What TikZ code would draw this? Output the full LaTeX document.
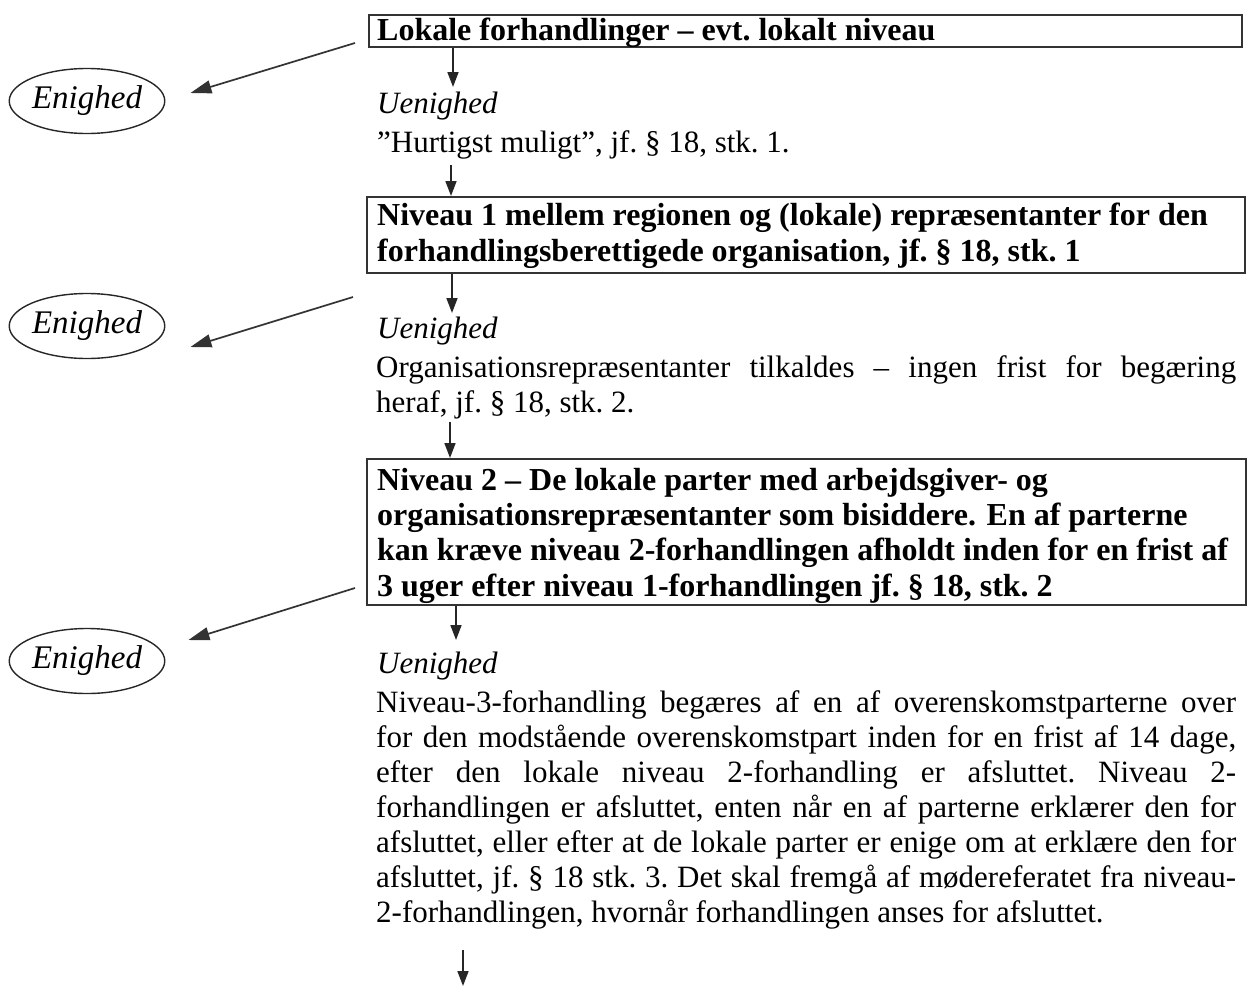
\documentclass[tikz,border=0pt]{standalone}
\usepackage{fontspec}
\setmainfont{Liberation Serif}
\usetikzlibrary{arrows.meta,shapes.geometric}
\begin{document}
\begin{tikzpicture}[x=1pt,y=-1pt,
  boxframe/.style={draw=black!80,line width=1.8pt,inner sep=0pt},
  txt/.style={anchor=base west,inner sep=0pt,font=\fontsize{31}{35}\selectfont\frenchspacing},
  ital/.style={txt,font=\fontsize{31}{35}\selectfont\itshape},
  boldtxt/.style={anchor=base west,inner sep=0pt,align=left,font=\fontsize{32}{35.3}\selectfont\bfseries},
  ell/.style={draw=black!85,ellipse,line width=1.4pt,minimum width=150pt,minimum height=65pt,inner sep=0pt,font=\fontsize{33}{36}\selectfont\itshape},
  down/.style={draw=black!85,line width=1.7pt,-{Triangle[length=15pt,width=11pt]}},
  side/.style={draw=black!80,line width=1.7pt,-{Triangle[length=21pt,width=13pt]}}]
\useasboundingbox (0,0) rectangle (1249,988);

% ellipses
\node[ell] (e1) at (87,101) {Enighed};
\node[ell] (e2) at (87,326) {Enighed};
\node[ell] (e3) at (87,661) {Enighed};

% box 1
\node[boxframe,anchor=north west,minimum width=873pt,minimum height=32pt] (b1) at (368,14) {};
\node[boldtxt] (t1) at (377,40) {Lokale forhandlinger – evt.\ lokalt niveau};
\node[ital] (u1) at (377,113) {Uenighed};
\node[txt] (h1) at (377,152) {”Hurtigst muligt”, jf. § 18, stk. 1.};

% box 2 (base = last line)
\node[boxframe,anchor=north west,minimum width=878pt,minimum height=76pt] (b2) at (366,196) {};
\node[boldtxt] (t2) at (377,261) {Niveau 1 mellem regionen og (lokale) repræsentanter for den\\forhandlingsberettigede organisation, jf.\ § 18, stk.\ 1};
\node[ital] (u2) at (377,338) {Uenighed};
\node[txt,text width=860pt,align=justify] (h2) at (376,377) {Organisationsrepræsentanter tilkaldes – ingen frist for begæring\linebreak heraf, jf. § 18, stk. 2.};

% box 3 (base = last line)
\node[boxframe,anchor=north west,minimum width=879pt,minimum height=146pt] (b3) at (366,458) {};
\node[boldtxt] (t3) at (377,596) {Niveau 2 – De lokale parter med arbejdsgiver- og\\organisationsrepræsentanter som bisiddere. En af parterne\\kan kræve niveau 2-forhandlingen afholdt inden for en frist af\\3 uger efter niveau 1-forhandlingen jf.\ § 18, stk.\ 2};
\node[ital] (u3) at (377,673) {Uenighed};
\node[txt,text width=860pt,align=justify] (p3) at (376,712) {Niveau-3-forhandling begæres af en af overenskomstparterne over\linebreak for den modstående overenskomstpart inden for en frist af 14 dage,\linebreak efter den lokale niveau 2-forhandling er afsluttet. Niveau 2-\linebreak forhandlingen er afsluttet, enten når en af parterne erklærer den for\linebreak afsluttet, eller efter at de lokale parter er enige om at erklære den for\linebreak afsluttet, jf. § 18 stk. 3. Det skal fremgå af mødereferatet fra niveau-\linebreak 2-forhandlingen, hvornår forhandlingen anses for afsluttet.};

% down arrows
\coordinate (d1) at (453,87);
\draw[down] (b1.south -| d1) -- (d1);
\coordinate (d2) at (451,165);
\draw[down] (d2) -- (b2.north -| d2);
\coordinate (d3) at (452,313);
\draw[down] (b2.south -| d3) -- (d3);
\coordinate (d4) at (450,422);
\draw[down] (d4) -- (b3.north -| d4);
\coordinate (d5) at (456,640);
\draw[down] (b3.south -| d5) -- (d5);
\coordinate (d6s) at (463,950);
\coordinate (d6) at (463,986);
\draw[down] (d6s) -- (d6);

% side arrows
\coordinate (s1) at (355,43);
\coordinate (s2) at (353,297);
\coordinate (s3) at (355,588);
\draw[side] (s1) -- ([shift={(25pt,8pt)}]e1.east);
\draw[side] (s2) -- ([shift={(25pt,-21pt)}]e2.east);
\draw[side] (s3) -- ([shift={(23pt,21pt)}]e3.east);
\end{tikzpicture}
\end{document}
